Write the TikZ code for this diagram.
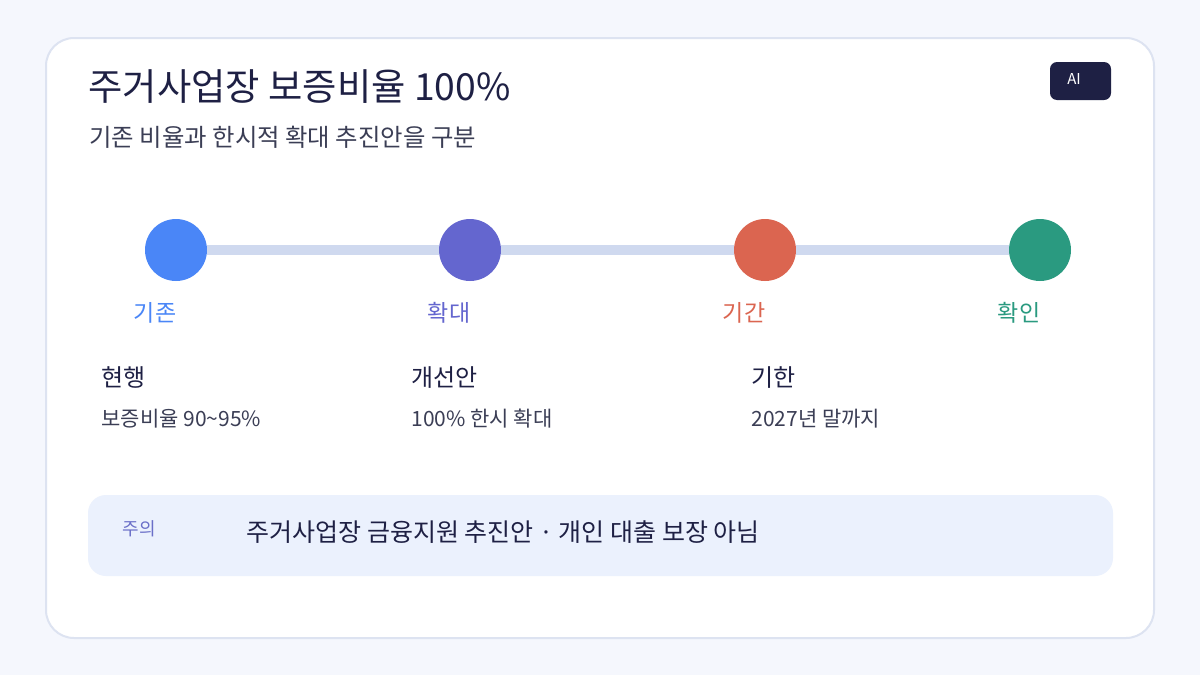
\documentclass[tikz,border=0pt]{standalone}
\usepackage{fontspec}
\setmainfont{Noto Sans CJK KR}
\usepackage{tikz}
\usetikzlibrary{positioning}
\definecolor{pagebg}{HTML}{F5F7FD}
\definecolor{cardline}{HTML}{DDE3F1}
\definecolor{ink}{HTML}{1E2044}
\definecolor{subink}{HTML}{3B3E55}
\definecolor{track}{HTML}{CFD9EF}
\definecolor{cblue}{HTML}{4A86F7}
\definecolor{cviolet}{HTML}{6466CF}
\definecolor{cred}{HTML}{DB6550}
\definecolor{cgreen}{HTML}{2A9A80}
\definecolor{notebg}{HTML}{EBF1FD}
\definecolor{noteink}{HTML}{6A6FC8}
\newcommand{\fs}[1]{\fontsize{#1}{#1}\selectfont}
\tikzset{%
    dot/.style={circle,inner sep=0pt,minimum size=62pt},
    tag/.style={anchor=base,font=\fs{23}},
    head/.style={anchor=base west,text=ink,font=\fs{24}},
    info/.style={anchor=base west,text=subink,font=\fs{21}}
}
\begin{document}
\begin{tikzpicture}[
        x=1pt, y=-1pt,
        link/.style={line width=10pt,track}
    ]
    \useasboundingbox[fill=pagebg] (0,0) rectangle (1200,675);
    \draw[cardline,line width=2pt,fill=white,rounded corners=28pt] (46,38) rectangle (1154,638);

    \node[anchor=base west,text=ink,font=\fs{37.3}] (title) at (85,100) {주거사업장 보증비율 100\%};
    \node[anchor=base west,text=subink,font=\fs{24.4}] (sub) at (86,146) {기존 비율과 한시적 확대 추진안을 구분};

    \fill[ink,rounded corners=7pt] (1050,62) rectangle (1111,100);
    \node[anchor=base,text=white,font=\fs{15}] (ai) at (1074,84) {AI};

    \node[dot,fill=cblue] (c1) at (176,250) {};
    \node[dot,fill=cviolet] (c2) at (470,250) {};
    \node[dot,fill=cred] (c3) at (765,250) {};
    \node[dot,fill=cgreen] (c4) at (1040,250) {};
    \draw[link] (c1) -- (c2);
    \draw[link] (c2) -- (c3);
    \draw[link] (c3) -- (c4);

    \node[tag,text=cblue] (t1) at (155,321) {기존};
    \node[tag,text=cviolet] (t2) at (449,321) {확대};
    \node[tag,text=cred] (t3) at (744,321) {기간};
    \node[tag,text=cgreen] (t4) at (1019,321) {확인};

    \node[head] (h1) at (98,386) {현행};
    \node[head] (h2) at (408,386) {개선안};
    \node[head] (h3) at (748,386) {기한};

    \node[info] (d1) at (98,426) {보증비율 90\textasciitilde95\%};
    \node[info] (d2) at (408,426) {100\% 한시 확대};
    \node[info] (d3) at (748,426) {2027년 말까지};

    \fill[notebg,rounded corners=18pt] (88,495) rectangle (1113,576);
    \node[anchor=base west,text=noteink,font=\fs{18}] (warn) at (119,535) {주의};
    \node[anchor=base west,text=ink,font=\fs{25}] (note) at (243,541) {주거사업장 금융지원 추진안 · 개인 대출 보장 아님};
\end{tikzpicture}
\end{document}
